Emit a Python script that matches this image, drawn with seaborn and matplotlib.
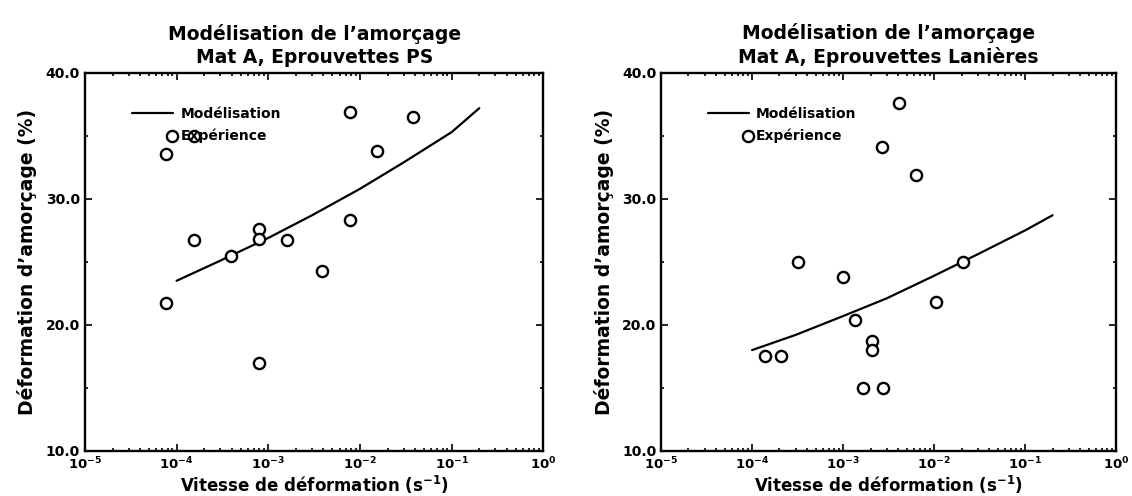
import numpy as np
import pandas as pd
import matplotlib
matplotlib.use('Agg')
import matplotlib.pyplot as plt
import seaborn as sns
from matplotlib.legend_handler import HandlerPathCollection
from matplotlib.collections import PathCollection
from matplotlib.ticker import LogLocator, FixedLocator, NullFormatter

# data
ps_rate = [7.7e-5, 1.53e-4, 7.8e-3, 3.8e-2, 1.52e-2, 7.8e-3, 8.0e-4,
           8.0e-4, 1.53e-4, 1.59e-3, 3.97e-4, 3.9e-3, 7.7e-5, 8.0e-4]
ps_def = [33.6, 35.0, 36.9, 36.5, 33.8, 28.3, 27.6,
          26.8, 26.7, 26.7, 25.5, 24.3, 21.7, 17.0]

lan_rate = [4.1e-3, 2.7e-3, 6.4e-3, 3.2e-4, 1.0e-3, 2.07e-2, 1.04e-2,
            1.35e-3, 2.1e-3, 2.1e-3, 1.37e-4, 2.07e-4, 1.67e-3, 2.77e-3]
lan_def = [37.6, 34.1, 31.9, 25.0, 23.8, 25.0, 21.8,
           20.4, 18.7, 18.0, 17.5, 17.5, 15.0, 15.0]

model_rate = [1e-4, 3e-4, 1e-3, 3e-3, 1e-2, 3e-2, 1e-1, 2e-1]
ps_model = [23.5, 25.1, 26.9, 28.7, 30.8, 32.9, 35.3, 37.2]
lan_model = [18.0, 19.2, 20.7, 22.1, 23.9, 25.6, 27.5, 28.7]

titles = ["Modélisation de l’amorçage\nMat A, Eprouvettes PS",
          "Modélisation de l’amorçage\nMat A, Eprouvettes Lanières"]
y_ticks = [10, 20, 30, 40]
y_ticklabels = ['10.0', '20.0', '30.0', '40.0']

sns.set_style('ticks')
plt.rcParams['font.family'] = ['DejaVu Sans']
plt.rcParams['font.weight'] = 'bold'
plt.rcParams['mathtext.default'] = 'bf'
plt.rcParams['axes.unicode_minus'] = False
for key in ['text.color', 'axes.labelcolor', 'xtick.color', 'ytick.color',
            'axes.edgecolor']:
    plt.rcParams[key] = 'black'


# put the legend circle at the right end of the handle, like the original
class RightMarker(HandlerPathCollection):
    def get_xdata(self, legend, xdescent, ydescent, width, height, fontsize):
        x = [width - xdescent - 0.1 * fontsize]
        return x, x


fig = plt.figure(figsize=(11.32, 4.96), dpi=100)
ax1 = fig.add_axes([0.075, 0.091, 0.405, 0.762])
ax2 = fig.add_axes([0.584, 0.091, 0.402, 0.762])

sets = [(ax1, ps_rate, ps_def, ps_model), (ax2, lan_rate, lan_def, lan_model)]
for i, (ax, rate, dfm, model) in enumerate(sets):
    df_pts = pd.DataFrame({'rate': rate, 'def': dfm})
    df_mod = pd.DataFrame({'rate': model_rate, 'def': model})

    sns.lineplot(data=df_mod, x='rate', y='def', ax=ax, color='black',
                 linewidth=1.6, label='Modélisation')
    sns.scatterplot(data=df_pts, x='rate', y='def', ax=ax, s=65,
                    facecolor='white', edgecolor='black', linewidth=1.7,
                    marker='o', label='Expérience', zorder=3)

    ax.set_xscale('log')
    ax.set_xlim(1e-5, 1e0)
    ax.set_ylim(10, 40)
    ax.xaxis.set_major_locator(LogLocator(base=10, numticks=10))
    ax.xaxis.set_minor_locator(LogLocator(base=10, subs=np.arange(2, 10), numticks=20))
    ax.xaxis.set_minor_formatter(NullFormatter())
    ax.yaxis.set_major_locator(FixedLocator(y_ticks))
    ax.set_yticklabels(y_ticklabels)
    ax.yaxis.set_minor_locator(FixedLocator([15, 25, 35]))

    ax.tick_params(which='both', direction='in', top=True, right=True,
                   labelsize=10, width=1.2, colors='black')
    ax.tick_params(axis='x', which='major', labelsize=9.5)
    ax.tick_params(which='major', length=5)
    ax.tick_params(which='minor', length=2.5)
    for sp in ax.spines.values():
        sp.set_linewidth(1.7)
        sp.set_color('black')

    ax.set_xlabel('Vitesse de déformation (s$^{-1}$)', fontsize=12,
                  fontweight='bold', labelpad=1)
    ax.set_ylabel('Déformation d’amorçage (%)', fontsize=13.5,
                  fontweight='bold', labelpad=6)
    ax.set_title(titles[i], fontsize=13.5, fontweight='bold',
                 linespacing=1.25, pad=7)

    h, l = ax.get_legend_handles_labels()
    ax.legend(h, l, loc='upper left', bbox_to_anchor=(0.09, 0.925),
              frameon=False, fontsize=10, handlelength=3.0,
              handletextpad=0.5, labelspacing=0.55, borderaxespad=0,
              handler_map={PathCollection: RightMarker()})

fig.savefig('out.png', dpi=100)
